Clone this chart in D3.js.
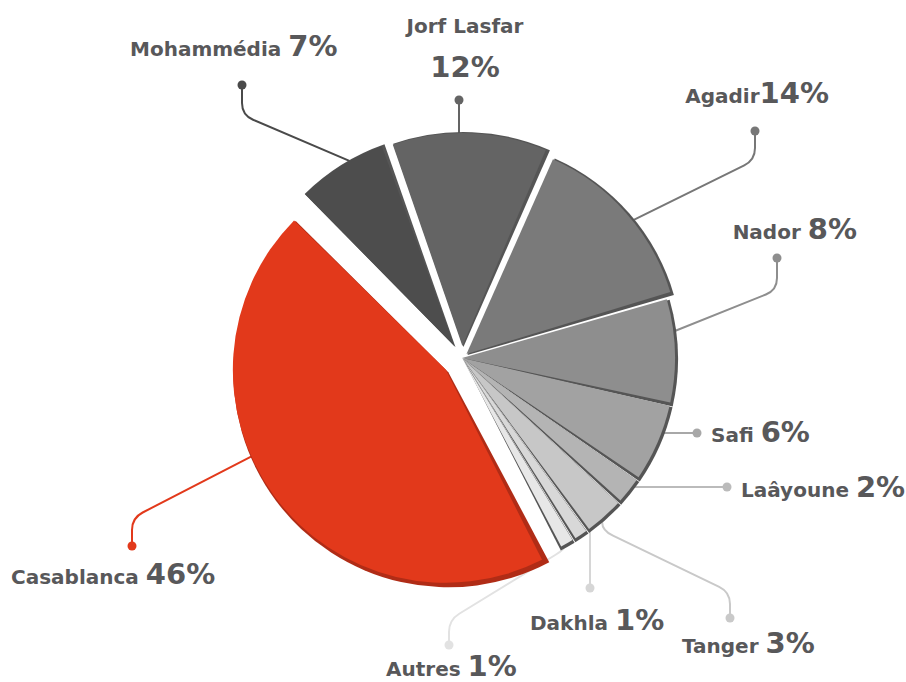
<!DOCTYPE html>
<html>
<head>
<meta charset="utf-8">
<script src="https://cdn.jsdelivr.net/npm/d3@7"></script>
<style>
    body { margin: 0; background: #fff; }
    svg text { font-family: "DejaVu Sans", sans-serif; font-weight: bold; fill: #58585a; }
</style>
</head>
<body>
<div id="container"></div>
<script>
// ports and their share of traffic (%), clockwise from Mohammédia
const ports = ["Mohammédia", "Jorf Lasfar", "Agadir", "Nador", "Safi", "Laâyoune", "Tanger", "Dakhla", "Autres", "Casablanca"];
const shares = [7, 12, 14, 8, 6, 2, 3, 1, 1, 46];

// styling
const fills = ["#4d4d4d", "#646464", "#7a7a7a", "#8e8e8e", "#a2a2a2", "#b4b4b4", "#c7c7c7", "#d8d8d8", "#e7e7e7", "#e2391b"];
const strokes = ["#4a4a4a", "#646464", "#777777", "#8e8e8e", "#a8a8a8", "#bbbbbb", "#c9c9c9", "#d6d6d6", "#e2e2e2", "#e2391b"];
const explode = { "Mohammédia": 14, "Jorf Lasfar": 12, "Agadir": 6, "Casablanca": 20 };

// label layout: dot position, leader route, text anchor
const labelLayout = {
    "Mohammédia":  { dot: [242, 85],  route: "elbow", drop: 30, at: 0.63, tx: 130, ty: 56, anchor: "start" },
    "Jorf Lasfar": { dot: [459, 100], route: "v", tx: 465, ty: 33, anchor: "middle", stacked: true },
    "Agadir":      { dot: [755, 131], route: "elbow", drop: 29, at: 0.55, tx: 829, ty: 103, anchor: "end", sep: "" },
    "Nador":       { dot: [777, 258], route: "elbow", drop: 32, at: 0.33, tx: 857, ty: 239, anchor: "end" },
    "Safi":        { dot: [697, 433], route: "h", tx: 711, ty: 442, anchor: "start" },
    "Laâyoune":    { dot: [727, 487], route: "h", tx: 741, ty: 497, anchor: "start" },
    "Tanger":      { dot: [730, 618], route: "s", a: 16, b: 26, at: 0.5, tx: 682, ty: 653, anchor: "start" },
    "Dakhla":      { dot: [590, 588], route: "v", tx: 530, ty: 630, anchor: "start" },
    "Autres":      { dot: [449, 645], route: "s", a: 8, b: 25, at: 0.5, tx: 386, ty: 676, anchor: "start" },
    "Casablanca":  { dot: [132, 546], route: "elbow", drop: -28, at: 0.575, tx: 11, ty: 584, anchor: "start" }
};

const width = 906, height = 682;
const cx = 462, cy = 358, radius = 213;

const data = ports.map((p, i) => ({ name: p, share: shares[i], fill: fills[i], stroke: strokes[i] }));

const pie = d3.pie()
    .sort(null)
    .value(d => d.share)
    .startAngle(-Math.PI / 4)
    .endAngle(2 * Math.PI - Math.PI / 4)
    .padAngle(0.016);

const arcs = pie(data);
const arc = d3.arc().innerRadius(0).outerRadius(radius);
const shadowArc = d3.arc().innerRadius(0).outerRadius(radius + 2);

function offsetOf(d) {
    const o = explode[d.data.name] || 0;
    const mid = (d.startAngle + d.endAngle) / 2;
    return [o * Math.sin(mid), -o * Math.cos(mid)];
}

function roundedPath(pts, rad) {
    const p = d3.path();
    p.moveTo(pts[0][0], pts[0][1]);
    for (let i = 1; i < pts.length - 1; i++) {
        const [x0, y0] = pts[i - 1], [x1, y1] = pts[i], [x2, y2] = pts[i + 1];
        const l1 = Math.hypot(x1 - x0, y1 - y0), l2 = Math.hypot(x2 - x1, y2 - y1);
        const r1 = Math.min(rad, l1 / 2), r2 = Math.min(rad, l2 / 2);
        p.lineTo(x1 - (x1 - x0) / l1 * r1, y1 - (y1 - y0) / l1 * r1);
        p.quadraticCurveTo(x1, y1, x1 + (x2 - x1) / l2 * r2, y1 + (y2 - y1) / l2 * r2);
    }
    const last = pts[pts.length - 1];
    p.lineTo(last[0], last[1]);
    return p.toString();
}

function leaderPoints(d) {
    const L = labelLayout[d.data.name];
    const [ox, oy] = offsetOf(d);
    const ccx = cx + ox, ccy = cy + oy;
    const D = L.dot;
    if (L.route === "h") {
        const x = ccx + Math.sqrt(radius * radius - (D[1] - ccy) ** 2);
        return [[x - 3, D[1]], D];
    }
    if (L.route === "v") {
        const dy = Math.sqrt(radius * radius - (D[0] - ccx) ** 2);
        const y = D[1] < ccy ? ccy - dy : ccy + dy;
        return [[D[0], y + (D[1] < ccy ? 3 : -3)], D];
    }
    const a = d.startAngle + L.at * (d.endAngle - d.startAngle);
    const P = [ccx + (radius - 3) * Math.sin(a), ccy - (radius - 3) * Math.cos(a)];
    if (L.route === "elbow") {
        return [D, [D[0], D[1] + L.drop], P];
    }
    // s-shaped
    return [P, [P[0], P[1] + L.a], [D[0], D[1] - L.b], D];
}

const svg = d3.select("#container").append("svg")
    .attr("width", width)
    .attr("height", height)
    .attr("viewBox", `0 0 ${width} ${height}`);

// leader lines and dots (behind the slices)
const leaders = svg.append("g").attr("class", "leaders");
leaders.selectAll("path")
    .data(arcs)
    .enter()
    .append("path")
    .attr("d", d => roundedPath(leaderPoints(d), 12))
    .attr("fill", "none")
    .attr("stroke", d => d.data.stroke)
    .attr("stroke-width", 2);
leaders.selectAll("circle")
    .data(arcs)
    .enter()
    .append("circle")
    .attr("cx", d => labelLayout[d.data.name].dot[0])
    .attr("cy", d => labelLayout[d.data.name].dot[1])
    .attr("r", 4.5)
    .attr("fill", d => d.data.stroke);

// slices, each with a darker rim drawn underneath
const slices = svg.append("g")
    .attr("transform", `translate(${cx},${cy})`);

const sliceG = slices.selectAll(".slice")
    .data(arcs)
    .enter()
    .append("g")
    .attr("class", "slice")
    .attr("transform", d => `translate(${offsetOf(d)})`);

sliceG.append("path")
    .attr("d", d => {
        const red = d.data.name === "Casablanca";
        return shadowArc({
            startAngle: d.startAngle - (red ? 0.02 : 0),
            endAngle: d.endAngle + (red ? 0.004 : 0.012),
            padAngle: d.padAngle
        });
    })
    .attr("transform", d => d.data.name === "Casablanca" ? "translate(2.5,2.5)" : "translate(1,1)")
    .attr("fill", d => d.data.name === "Casablanca" ? "#b02c16" : "#555555");

sliceG.append("path")
    .attr("d", arc)
    .attr("fill", d => d.data.fill);

// labels
const labels = svg.append("g").attr("class", "labels");
arcs.forEach(d => {
    const L = labelLayout[d.data.name];
    const pct = d.data.share + "%";
    if (L.stacked) {
        labels.append("text")
            .attr("x", L.tx).attr("y", L.ty)
            .attr("text-anchor", "middle")
            .style("font-size", "20px")
            .text(d.data.name);
        labels.append("text")
            .attr("x", L.tx).attr("y", L.ty + 44)
            .attr("text-anchor", "middle")
            .style("font-size", "29px")
            .text(pct);
        return;
    }
    const t = labels.append("text")
        .attr("x", L.tx).attr("y", L.ty)
        .attr("text-anchor", L.anchor);
    t.append("tspan")
        .style("font-size", "20px")
        .text(d.data.name + (L.sep === undefined ? " " : L.sep));
    t.append("tspan")
        .style("font-size", "29px")
        .text(pct);
});
</script>
</body>
</html>
